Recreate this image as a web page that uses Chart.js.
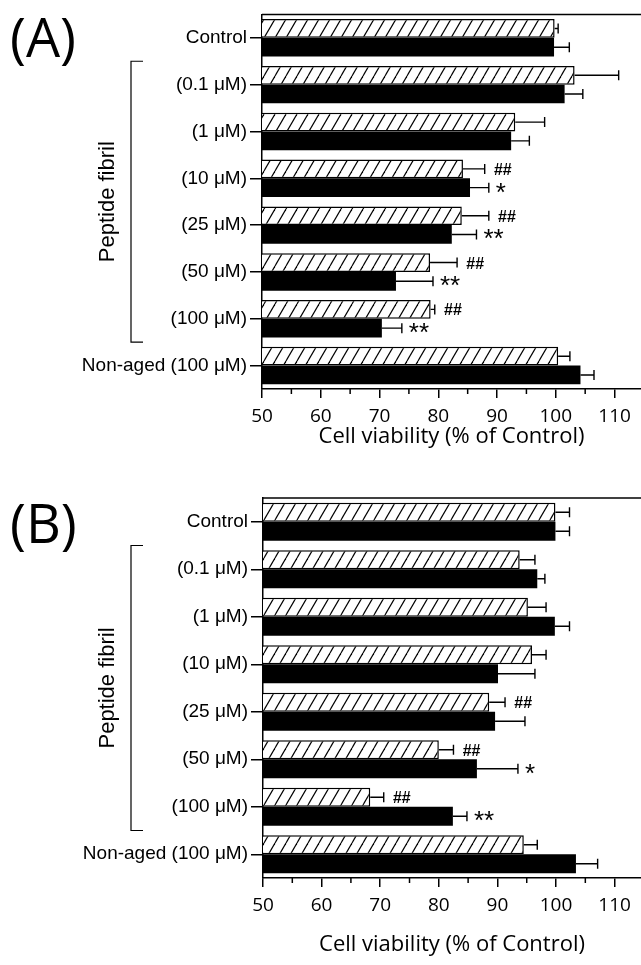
<!DOCTYPE html>
<html>
<head>
  <title>Cell viability</title>
  <script src="https://cdn.jsdelivr.net/npm/chart.js"></script>
  <style>
    body {
      margin: 0;
      background: #fff;
    }
    .panel {
      position: relative;
      width: 641px;
    }
    canvas {
      display: block;
    }
  </style>
</head>
<body>
  <div class="panel"><canvas id="chartA" width="641" height="482"></canvas></div>
  <div class="panel"><canvas id="chartB" width="641" height="483"></canvas></div>

  <script>
    const categories = ['Control', '(0.1 μM)', '(1 μM)', '(10 μM)', '(25 μM)', '(50 μM)', '(100 μM)', 'Non-aged (100 μM)'];
    const xTickLabels = [50, 60, 70, 80, 90, 100, 110];
    const xMinorTicks = [55, 65, 75, 85, 95, 105];

    // panel A
    const hatchA    = [99.8, 103.2, 93.1, 84.2, 84.0, 78.6, 78.7, 100.4];
    const hatchErrA = [0.6, 7.5, 5.0, 3.7, 4.6, 4.6, 0.7, 2.0];
    const blackA    = [99.7, 101.5, 92.4, 85.4, 82.3, 72.8, 70.4, 104.2];
    const blackErrA = [2.6, 3.1, 3.1, 3.2, 4.2, 6.3, 3.4, 2.3];
    const hatchSigA = ['', '', '', '##', '##', '##', '##', ''];
    const blackSigA = ['', '', '', '*', '**', '**', '**', ''];

    // panel B
    const hatchB    = [99.9, 93.8, 95.2, 95.9, 88.6, 80.0, 68.3, 94.5];
    const hatchErrB = [2.4, 2.6, 3.1, 2.4, 2.7, 2.5, 2.3, 2.3];
    const blackB    = [99.9, 96.8, 99.8, 90.1, 89.6, 86.5, 82.4, 103.4];
    const blackErrB = [2.4, 1.3, 2.5, 6.3, 5.1, 7.0, 2.4, 3.7];
    const hatchSigB = ['', '', '', '', '##', '##', '##', ''];
    const blackSigB = ['', '', '', '', '', '*', '**', ''];

    function hatchPattern() {
      const w = 11, h = 19;
      const c = document.createElement('canvas');
      c.width = w; c.height = h;
      const g = c.getContext('2d');
      g.fillStyle = '#fff';
      g.fillRect(0, 0, w, h);
      g.strokeStyle = '#000';
      g.lineWidth = 1.2;
      for (let k = -1; k <= 1; k++) {
        g.beginPath();
        g.moveTo(k * w, h);
        g.lineTo((k + 1) * w, 0);
        g.stroke();
      }
      return g.createPattern(c, 'repeat');
    }

    const extras = {
      id: 'extras',
      afterDraw(chart, args, o) {
        const ctx = chart.ctx;
        const area = chart.chartArea;
        const xs = chart.scales.x, ys = chart.scales.y;
        ctx.save();
        ctx.strokeStyle = '#000';
        ctx.fillStyle = '#000';

        // top frame line
        ctx.lineWidth = 1.5;
        ctx.beginPath();
        ctx.moveTo(area.left, area.top);
        ctx.lineTo(area.right, area.top);
        ctx.stroke();

        // minor ticks
        xMinorTicks.forEach(v => {
          const px = xs.getPixelForValue(v);
          ctx.beginPath();
          ctx.moveTo(px, area.bottom);
          ctx.lineTo(px, area.bottom + 5);
          ctx.stroke();
        });

        // error bars + significance marks
        const errs = [o.hatchErr, o.blackErr];
        const sigs = [o.hatchSig, o.blackSig];
        [0, 1].forEach(d => {
          const meta = chart.getDatasetMeta(d);
          const vals = chart.data.datasets[d].data;
          meta.data.forEach((bar, i) => {
            const xEnd = xs.getPixelForValue(vals[i] + errs[d][i]);
            ctx.lineWidth = 1.4;
            ctx.beginPath();
            ctx.moveTo(bar.x, bar.y);
            ctx.lineTo(xEnd, bar.y);
            ctx.moveTo(xEnd, bar.y - 5);
            ctx.lineTo(xEnd, bar.y + 5);
            ctx.stroke();
            const s = sigs[d][i];
            if (s) {
              ctx.font = s[0] === '#' ? 'italic bold 16px "Liberation Sans"' : '26px "Liberation Sans"';
              ctx.textAlign = 'left';
              ctx.textBaseline = 'alphabetic';
              const m = ctx.measureText(s);
              const yy = bar.y + (m.actualBoundingBoxAscent - m.actualBoundingBoxDescent) / 2;
              ctx.fillText(s, xEnd + (s[0] === '#' ? 9 : 7), yy);
            }
          });
        });

        // panel letter
        ctx.font = '54px "Open Sans"';
        ctx.textAlign = 'left';
        ctx.textBaseline = 'middle';
        ctx.fillText(o.letter, 10, o.letterY);

        // bracket for the peptide fibril group
        const yTop = (ys.getPixelForValue(0) + ys.getPixelForValue(1)) / 2;
        const yBot = (ys.getPixelForValue(6) + ys.getPixelForValue(7)) / 2;
        ctx.lineWidth = 1.2;
        ctx.beginPath();
        ctx.moveTo(143, yTop);
        ctx.lineTo(131, yTop);
        ctx.lineTo(131, yBot);
        ctx.lineTo(143, yBot);
        ctx.stroke();

        ctx.translate(108, (yTop + yBot) / 2);
        ctx.rotate(-Math.PI / 2);
        ctx.font = '22px "Liberation Sans"';
        ctx.textAlign = 'center';
        ctx.textBaseline = 'middle';
        ctx.fillText('Peptide fibril', 0, 0);
        ctx.restore();
      }
    };

    function makeChart(id, hatch, black, o) {
      const ctx = document.getElementById(id).getContext('2d');
      return new Chart(ctx, {
        type: 'bar',
        data: {
          labels: categories,
          datasets: [{
            data: hatch,
            backgroundColor: hatchPattern(),
            borderColor: '#000',
            borderWidth: 1.5
          }, {
            data: black,
            backgroundColor: '#000',
            borderWidth: 0
          }]
        },
        options: {
          indexAxis: 'y',
          responsive: false,
          animation: false,
          categoryPercentage: 0.8,
          barPercentage: 1.0,
          layout: { padding: { top: o.top, right: 0, bottom: 0, left: 0 } },
          plugins: {
            legend: { display: false },
            tooltip: { enabled: false },
            extras: o
          },
          scales: {
            y: {
              afterFit: s => { s.width = o.left; },
              grid: { drawOnChartArea: false, offset: false, tickLength: 12, color: '#000', lineWidth: 1.5 },
              border: { color: '#000', width: 1.5 },
              ticks: { color: '#000', padding: 3, font: { family: 'Liberation Sans', size: 19 } }
            },
            x: {
              min: 50,
              max: 114.5,
              afterFit: s => { s.height = o.xHeight; },
              afterBuildTicks: s => { s.ticks = xTickLabels.map(v => ({ value: v })); },
              grid: {
                drawOnChartArea: false,
                tickLength: 9,
                lineWidth: 1.5,
                tickColor: '#000'
              },
              border: { color: '#000', width: 1.5 },
              ticks: {
                autoSkip: false,
                maxRotation: 0,
                minRotation: 0,
                color: '#000',
                padding: 7,
                font: { family: 'Open Sans', size: 19 }
              },
              title: {
                display: true,
                text: 'Cell viability (% of Control)',
                color: '#000',
                font: { family: 'Open Sans', size: 22 },
                padding: { top: 0, bottom: o.titlePad }
              }
            }
          }
        },
        plugins: [extras]
      });
    }

    makeChart('chartA', hatchA, blackA, {
      hatchErr: hatchErrA, blackErr: blackErrA, hatchSig: hatchSigA, blackSig: blackSigA,
      letter: '(A)', letterY: 42, top: 11, left: 262, xHeight: 93, titlePad: 32
    });
    makeChart('chartB', hatchB, blackB, {
      hatchErr: hatchErrB, blackErr: blackErrB, hatchSig: hatchSigB, blackSig: blackSigB,
      letter: '(B)', letterY: 46, top: 16, left: 263, xHeight: 87, titlePad: 7
    });
  </script>
</body>
</html>
